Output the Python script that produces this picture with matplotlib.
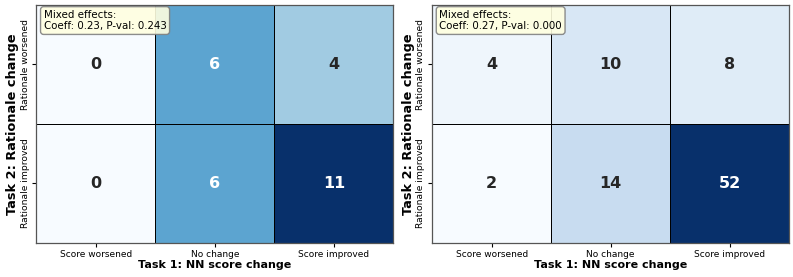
import matplotlib
matplotlib.use('Agg')
import matplotlib.pyplot as plt
import seaborn as sns
import numpy as np

# Data
x_labels = ['Score worsened', 'No change', 'Score improved']
y_labels = ['Rationale worsened', 'Rationale improved']
counts_left = [[0, 6, 4], [0, 6, 11]]
counts_right = [[4, 10, 8], [2, 14, 52]]
coeffs = [0.23, 0.27]
pvals = [0.243, 0.000]

fig, axes = plt.subplots(1, 2, figsize=(7.93, 2.77), dpi=100)

for ax, counts, coeff, pval in zip(axes, [counts_left, counts_right], coeffs, pvals):
    data = np.array(counts)
    sns.heatmap(data, ax=ax, cmap='Blues', annot=True, fmt='d', cbar=False,
                linewidths=0.7, linecolor='black',
                annot_kws={'fontsize': 11.5, 'fontweight': 'bold'},
                xticklabels=x_labels, yticklabels=y_labels)
    ax.set_xlabel('Task 1: NN score change', fontsize=8, fontweight='bold', labelpad=1)
    ax.set_ylabel('Task 2: Rationale change', fontsize=9.3, fontweight='bold', labelpad=1)
    ax.tick_params(axis='x', labelsize=6.5, rotation=0, pad=2, length=3)
    ax.tick_params(axis='y', labelsize=6.6, pad=2, length=3)
    plt.setp(ax.get_yticklabels(), rotation=90, va='center')
    for spine in ax.spines.values():
        spine.set_visible(True)
        spine.set_color('#555555')
        spine.set_linewidth(0.9)
    ax.text(0.02, 0.98, f'Mixed effects:\nCoeff: {coeff:.2f}, P-val: {pval:.3f}',
            transform=ax.transAxes, fontsize=7.4, va='top', ha='left',
            bbox=dict(boxstyle='round,pad=0.3', facecolor='lightyellow',
                      edgecolor='gray', alpha=0.9))

plt.subplots_adjust(left=0.046, right=0.995, top=0.982, bottom=0.123, wspace=0.109)
plt.savefig('out.png', dpi=100)
